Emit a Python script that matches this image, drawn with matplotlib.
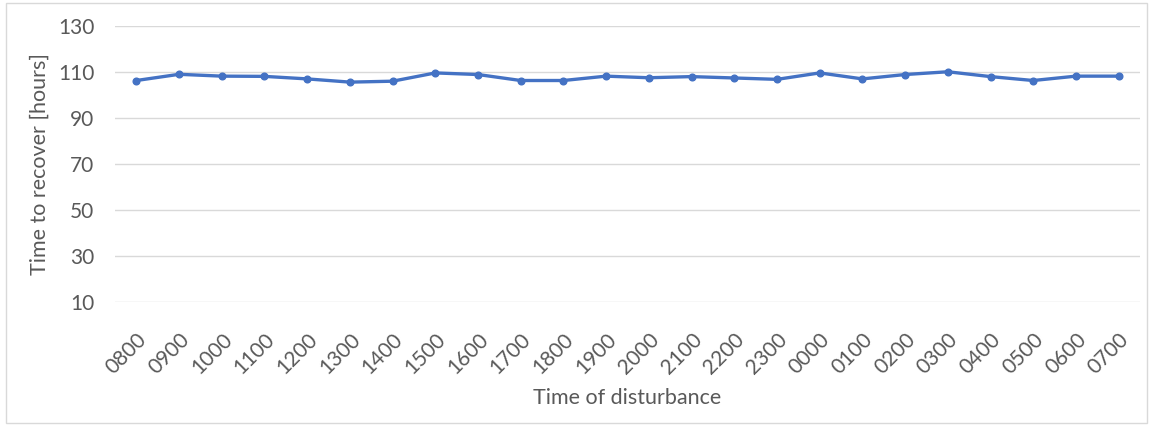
import matplotlib.pyplot as plt
from matplotlib.patches import Rectangle

hours = ["0800", "0900", "1000", "1100", "1200", "1300", "1400", "1500",
         "1600", "1700", "1800", "1900", "2000", "2100", "2200", "2300",
         "0000", "0100", "0200", "0300", "0400", "0500", "0600", "0700"]
recover = [106.3, 109.0, 108.2, 108.1, 107.0, 105.6, 106.0, 109.6,
           108.9, 106.3, 106.3, 108.2, 107.5, 108.0, 107.4, 106.8,
           109.6, 107.0, 108.9, 110.1, 108.0, 106.3, 108.2, 108.2]
y_ticks = [10, 30, 50, 70, 90, 110, 130]

text_color = "#595959"
plt.rcParams["font.family"] = ["Lato", "DejaVu Sans"]

fig = plt.figure(figsize=(11.5, 4.25), dpi=100)
ax = fig.add_axes([115 / 1150, 1 - 302 / 425, (1140 - 115) / 1150, (302 - 26) / 425])

x = list(range(len(hours)))
ax.plot(x, recover, color="#4472C4", linewidth=2.4, marker="o", markersize=4.8,
        solid_joinstyle="round")

ax.set_xlim(-0.5, len(hours) - 0.5)
ax.set_ylim(10, 130)
ax.set_yticks(y_ticks)
ax.set_xticks(x)
ax.set_xticklabels(hours, rotation=45, ha="right", va="top", rotation_mode="anchor")
ax.grid(axis="y", color="#D9D9D9", linewidth=1)
ax.set_axisbelow(True)
for s in ax.spines.values():
    s.set_visible(False)
ax.tick_params(axis="both", length=0, labelsize=15, colors=text_color)
ax.tick_params(axis="y", pad=15)
ax.tick_params(axis="x", pad=20)

ax.set_xlabel("Time of disturbance", fontsize=15.5, color=text_color, labelpad=7)
ax.set_ylabel("Time to recover [hours]", fontsize=15.5, color=text_color, labelpad=6)

fig.patches.append(Rectangle((6 / 1150, 2 / 425), 1141 / 1150, 420 / 425,
                             transform=fig.transFigure, fill=False,
                             edgecolor="#D9D9D9", linewidth=1))

fig.savefig("out.png", dpi=100)
